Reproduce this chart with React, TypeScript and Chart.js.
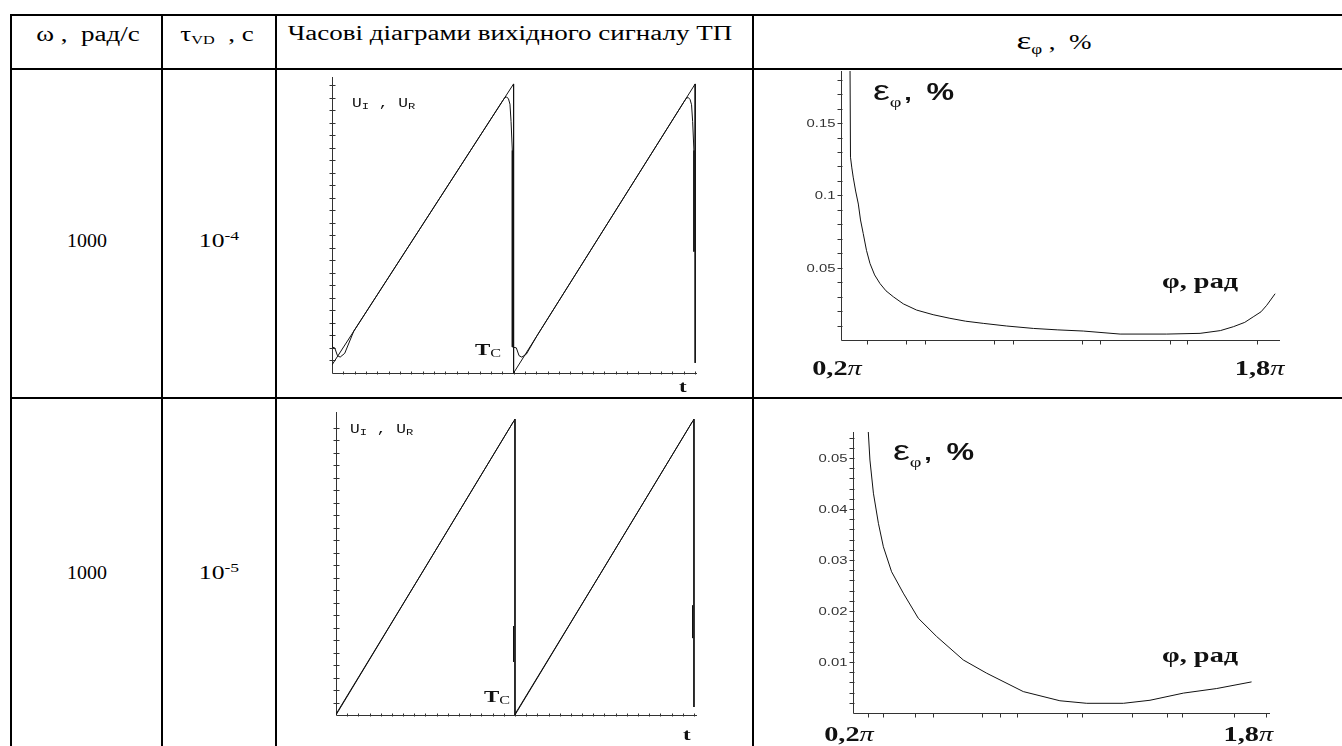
import { useEffect, useRef } from "react";
import { Chart, registerables } from "chart.js";

Chart.register(...registerables);

const SERIF = '"Liberation Serif", "Times New Roman", serif';
const SANS = '"Liberation Sans", Arial, sans-serif';
const MONO = '"Liberation Mono", "Courier New", monospace';
const INK = "#111";
const AXIS = "#333";
const STRETCH = 1.35;

// ---- Row 1 (τ = 1e-4 s): output signal, t in units of T_C, U normalised
const idealT1 = [0, 1, 1, 2, 2];
const idealU1 = [0.028, 1.0, 0.0, 1.0, 0.035];
const realT1 = [0, 0, 0.015, 0.03, 0.045, 0.07, 0.12, 0.94, 0.952, 0.962, 0.972, 0.98, 0.986, 0.993, 0.993,
  1.015, 1.03, 1.045, 1.07, 1.13, 1.94, 1.952, 1.962, 1.972, 1.98, 1.986, 1.993, 1.993];
const realU1 = [0.211, 0.09, 0.087, 0.06, 0.055, 0.068, 0.145, 0.942, 0.953, 0.955, 0.948, 0.93, 0.87, 0.77, 0.09,
  0.087, 0.06, 0.055, 0.065, 0.13, 0.94, 0.951, 0.953, 0.946, 0.928, 0.87, 0.77, 0.42];

// ---- Row 2 (τ = 1e-5 s)
const idealT2 = [0, 1, 1, 2, 2];
const idealU2 = [0.0, 1.0, 0.0, 1.0, 0.027];
const realT2 = [0, 0.5, 0.99, 0.991, 0.992, 0.992, 0.996, 1.0, 1.5, 1.99, 1.991, 1.992, 1.992];
const realU2 = [0.003, 0.5, 0.99, null, 0.3, 0.18, null, 0.003, 0.5, 0.99, null, 0.37, 0.26];

// ---- Phase error ε_φ (%) versus φ (in units of π)
const phi1 = [0.233, 0.235, 0.24, 0.245, 0.254, 0.264, 0.272, 0.282, 0.294, 0.307, 0.324, 0.344, 0.366, 0.393,
  0.43, 0.479, 0.54, 0.602, 0.66, 0.725, 0.81, 0.91, 1.0, 1.094, 1.23, 1.402, 1.525, 1.6, 1.648, 1.69, 1.721,
  1.75, 1.771, 1.802];
const eps1 = [0.2, 0.1264, 0.119, 0.1126, 0.103, 0.094, 0.083, 0.0736, 0.062, 0.0529, 0.045, 0.039, 0.034, 0.0299,
  0.025, 0.0207, 0.0175, 0.015, 0.013, 0.0115, 0.0097, 0.008, 0.007, 0.0062, 0.0041, 0.0041, 0.0046, 0.0065,
  0.0092, 0.0122, 0.016, 0.0195, 0.024, 0.032];
const phi2 = [0.258, 0.268, 0.282, 0.302, 0.322, 0.355, 0.402, 0.462, 0.536, 0.643, 0.737, 0.884, 1.031, 1.139,
  1.286, 1.393, 1.527, 1.661, 1.801];
const eps2 = [0.058, 0.0496, 0.0431, 0.0372, 0.0326, 0.0277, 0.0235, 0.0186, 0.015, 0.0104, 0.0078, 0.0042,
  0.0024, 0.0019, 0.0019, 0.0025, 0.0039, 0.0048, 0.0061];

// ---- Tick labels
const eps1TickValues = [0.05, 0.1, 0.15];
const eps1TickLabels = ["0.05", "0.1", "0.15"];
const eps2TickValues = [0.01, 0.02, 0.03, 0.04, 0.05];
const eps2TickLabels = ["0.01", "0.02", "0.03", "0.04", "0.05"];
const phiLabelValues = [0.2, 1.8];
const phiLabelTexts = ["0,2", "1,8"];
const phi1MinorTicks = [0.295, 0.44, 0.51, 0.765, 0.835, 1.09, 1.155, 1.415, 1.475, 1.735];
const phi2MinorTicks = [0.26, 0.32, 0.45, 0.52, 0.72, 0.79, 0.86, 1.06, 1.12, 1.32, 1.46, 1.52, 1.73, 1.86];

function steps(step: number, from: number, to: number): number[] {
  const out: number[] = [];
  for (let v = from; v <= to + 1e-9; v += step) out.push(+v.toFixed(5));
  return out;
}

type Run = { text: string; font: string; dy?: number; dx?: number };
type TextItem = { x: number; y: number; runs: Run[]; align?: "left" | "center" };

function drawRuns(ctx: CanvasRenderingContext2D, x: number, y: number, runs: Run[], align: "left" | "center" | "right" = "left", color = INK) {
  ctx.save();
  ctx.fillStyle = color;
  ctx.textBaseline = "alphabetic";
  ctx.textAlign = "left";
  let total = 0;
  for (const r of runs) {
    ctx.font = r.font;
    total += ctx.measureText(r.text).width + (r.dx ?? 0);
  }
  let sx = x;
  if (align === "center") sx = x - (total * STRETCH) / 2;
  if (align === "right") sx = x - total * STRETCH;
  ctx.translate(sx, y);
  ctx.scale(STRETCH, 1);
  let cx = 0;
  for (const r of runs) {
    ctx.font = r.font;
    cx += r.dx ?? 0;
    ctx.fillText(r.text, cx, r.dy ?? 0);
    cx += ctx.measureText(r.text).width;
  }
  ctx.restore();
}

interface PlotSpec {
  box: { left: number; top: number; width: number; height: number };
  pad: { left: number; top: number; right: number; bottom: number };
  x: { min: number; max: number };
  y: { min: number; max: number };
  series: { t: number[]; v: (number | null)[] }[];
  xTicks: number[];
  xTickUp: number;
  xTickDown: number;
  yTicks: number[];
  yTickLeft: number;
  yTickRight: number;
  yLabels?: { values: number[]; texts: string[] };
  phiLabels?: { offsets: number[]; baseline: number };
  texts: TextItem[];
}

function decor(spec: PlotSpec) {
  return {
    id: "decor",
    beforeDatasetsDraw(chart: any) {
      const ctx: CanvasRenderingContext2D = chart.ctx;
      const xs = chart.scales.x;
      const ys = chart.scales.y;
      const area = chart.chartArea;
      const ax = Math.round(area.left) + 0.5;
      const ay = Math.round(ys.getPixelForValue(0)) + 0.5;
      ctx.save();
      ctx.strokeStyle = AXIS;
      ctx.lineWidth = 1;
      ctx.beginPath();
      ctx.moveTo(ax, area.top);
      ctx.lineTo(ax, ay);
      ctx.moveTo(ax, ay);
      ctx.lineTo(area.right, ay);
      for (const v of spec.yTicks) {
        const py = Math.round(ys.getPixelForValue(v)) + 0.5;
        ctx.moveTo(ax - spec.yTickLeft, py);
        ctx.lineTo(ax + spec.yTickRight, py);
      }
      for (const v of spec.xTicks) {
        const px = Math.round(xs.getPixelForValue(v)) + 0.5;
        ctx.moveTo(px, ay - spec.xTickUp);
        ctx.lineTo(px, ay + spec.xTickDown);
      }
      ctx.stroke();
      ctx.restore();

      if (spec.yLabels) {
        spec.yLabels.values.forEach((v, i) => {
          const py = ys.getPixelForValue(v);
          drawRuns(ctx, ax - spec.yTickLeft - 2, py + 4, [{ text: spec.yLabels!.texts[i], font: `11px ${SANS}` }], "right", "#333");
        });
      }
      if (spec.phiLabels) {
        phiLabelValues.forEach((v, i) => {
          const px = xs.getPixelForValue(v) + spec.phiLabels!.offsets[i];
          drawRuns(ctx, px, spec.phiLabels!.baseline, [
            { text: phiLabelTexts[i], font: `bold 21px ${SERIF}` },
            { text: "π", font: `italic 21px ${SERIF}` },
          ], "center");
        });
      }
    },
    afterDraw(chart: any) {
      for (const t of spec.texts) drawRuns(chart.ctx, t.x, t.y, t.runs, t.align ?? "left");
    },
  };
}

function Plot({ spec }: { spec: PlotSpec }) {
  const ref = useRef<HTMLCanvasElement>(null);
  useEffect(() => {
    const chart = new Chart(ref.current!, {
      type: "line",
      data: {
        datasets: spec.series.map((s) => ({
          data: s.t.map((t, i) => ({ x: t, y: s.v[i] })),
          borderColor: INK,
          borderWidth: 1,
          pointRadius: 0,
          fill: false,
          tension: 0,
          spanGaps: false,
        })) as any,
      },
      options: {
        animation: false,
        responsive: false,
        maintainAspectRatio: false,
        events: [],
        layout: { padding: spec.pad },
        plugins: { legend: { display: false }, tooltip: { enabled: false } },
        scales: {
          x: { type: "linear", min: spec.x.min, max: spec.x.max, display: false },
          y: { type: "linear", min: spec.y.min, max: spec.y.max, display: false },
        },
      },
      plugins: [decor(spec)],
    });
    return () => chart.destroy();
  }, [spec]);
  const b = spec.box;
  return (
    <canvas
      ref={ref}
      width={b.width}
      height={b.height}
      style={{ position: "absolute", left: b.left, top: b.top, width: b.width, height: b.height }}
    />
  );
}

const uLabel = (x: number, y: number): TextItem => ({
  x,
  y,
  runs: [
    { text: "U", font: `12px ${MONO}` },
    { text: "I", font: `9px ${MONO}`, dy: 2 },
    { text: " , ", font: `12px ${MONO}` },
    { text: "U", font: `12px ${MONO}` },
    { text: "R", font: `9px ${MONO}`, dy: 2 },
  ],
});
const tcLabel = (x: number, y: number): TextItem => ({
  x,
  y,
  runs: [
    { text: "T", font: `bold 17px ${SERIF}` },
    { text: "C", font: `12px ${SERIF}`, dy: 2 },
  ],
});
const tLabel = (x: number, y: number): TextItem => ({ x, y, runs: [{ text: "t", font: `bold 17px ${SERIF}` }] });
const epsLabel = (x: number, y: number): TextItem => ({
  x,
  y,
  runs: [
    { text: "ε", font: `28px ${SANS}` },
    { text: "φ", font: `15px ${SERIF}`, dy: 7 },
    { text: ",", font: `bold 20px ${SANS}`, dx: 2 },
    { text: "%", font: `bold 23px ${SANS}`, dx: 11 },
  ],
});
const phiLabel = (x: number, y: number): TextItem => ({
  x,
  y,
  runs: [{ text: "φ, рад", font: `bold 21px ${SERIF}` }],
});

const timeSpec1: PlotSpec = {
  box: { left: 300, top: 71, width: 450, height: 326 },
  pad: { left: 32, top: 6, right: 53, bottom: 24 },
  x: { min: 0, max: 2.01 },
  y: { min: 0, max: 1.024 },
  series: [
    { t: idealT1, v: idealU1 },
    { t: realT1, v: realU1 },
  ],
  xTicks: steps(0.0625, 0.0625, 2),
  xTickUp: 2,
  xTickDown: 1,
  yTicks: steps(0.0433, 0.0433, 1.0),
  yTickLeft: 3,
  yTickRight: 3,
  texts: [uLabel(52, 36), tcLabel(175, 284), tLabel(379, 321)],
};

const timeSpec2: PlotSpec = {
  box: { left: 300, top: 400, width: 450, height: 346 },
  pad: { left: 36, top: 12, right: 53, bottom: 31 },
  x: { min: 0, max: 2.017 },
  y: { min: 0, max: 1.024 },
  series: [
    { t: idealT2, v: idealU2 },
    { t: realT2, v: realU2 },
  ],
  xTicks: steps(0.0625, 0.0625, 2),
  xTickUp: 2,
  xTickDown: 1,
  yTicks: steps(0.0422, 0.0422, 1.0),
  yTickLeft: 3,
  yTickRight: 3,
  texts: [uLabel(50, 33), tcLabel(184, 302), tLabel(383, 340)],
};

const epsSpec1: PlotSpec = {
  box: { left: 755, top: 71, width: 587, height: 326 },
  pad: { left: 86, top: 0, right: 62, bottom: 57 },
  x: { min: 0.2, max: 1.82 },
  y: { min: 0, max: 0.186 },
  series: [{ t: phi1, v: eps1 }],
  xTicks: phi1MinorTicks,
  xTickUp: 0,
  xTickDown: 4,
  yTicks: steps(0.01, 0.01, 0.18),
  yTickLeft: 4,
  yTickRight: 1,
  yLabels: { values: eps1TickValues, texts: eps1TickLabels },
  phiLabels: { offsets: [-4, -15], baseline: 304 },
  texts: [epsLabel(118, 29), phiLabel(407, 217)],
};

const epsSpec2: PlotSpec = {
  box: { left: 755, top: 400, width: 587, height: 346 },
  pad: { left: 98, top: 32, right: 72, bottom: 33 },
  x: { min: 0.2, max: 1.875 },
  y: { min: 0, max: 0.0551 },
  series: [{ t: phi2, v: eps2 }],
  xTicks: phi2MinorTicks,
  xTickUp: 0,
  xTickDown: 4,
  yTicks: steps(0.002, 0.002, 0.054),
  yTickLeft: 4,
  yTickRight: 1,
  yLabels: { values: eps2TickValues, texts: eps2TickLabels },
  phiLabels: { offsets: [-4, -3], baseline: 341 },
  texts: [epsLabel(138, 60), phiLabel(407, 262)],
};

function Text({ cx, baseline, size, stretch = STRETCH, children }: { cx: number; baseline: number; size: number; stretch?: number; children: any }) {
  return (
    <div
      style={{
        position: "absolute",
        left: cx - 250,
        width: 500,
        top: baseline - size * 0.8375,
        height: size,
        lineHeight: `${size}px`,
        fontSize: size,
        fontFamily: SERIF,
        textAlign: "center",
        whiteSpace: "pre",
        color: "#000",
        transform: `scaleX(${stretch})`,
        transformOrigin: "center",
      }}
    >
      {children}
    </div>
  );
}

const sub = (s: string, size: number, dy: number) => (
  <span style={{ fontSize: size, position: "relative", top: dy }}>{s}</span>
);

function Line({ left, top, width, height }: { left: number; top: number; width: number; height: number }) {
  return <div style={{ position: "absolute", left, top, width, height, background: "#000" }} />;
}

export default function App() {
  return (
    <div
      style={{
        position: "fixed",
        left: 0,
        top: 0,
        width: 1342,
        height: 746,
        overflow: "hidden",
        background: "#fff",
      }}
    >
      {/* table grid */}
      <Line left={10} top={14} width={1332} height={2} />
      <Line left={10} top={68} width={1332} height={2} />
      <Line left={10} top={397} width={1332} height={2} />
      <Line left={10} top={14} width={2} height={732} />
      <Line left={161} top={14} width={2} height={732} />
      <Line left={275} top={14} width={2} height={732} />
      <Line left={752} top={14} width={2} height={732} />

      {/* header */}
      <Text cx={88} baseline={41} size={20}>ω ,  рад/с</Text>
      <Text cx={217} baseline={41} size={20}>
        τ{sub("VD", 12, 3)}  , с
      </Text>
      <Text cx={510} baseline={40} size={20}>Часові діаграми вихідного сигналу ТП</Text>
      <Text cx={1054} baseline={48} size={20}>
        <span style={{ fontSize: 26 }}>ε</span>
        {sub("φ", 14, 5)} ,  %
      </Text>

      {/* row values */}
      <Text cx={87} baseline={247} size={19} stretch={1.05}>1000</Text>
      <Text cx={219} baseline={247} size={19}>
        10{sub("-4", 13, -7)}
      </Text>
      <Text cx={87} baseline={579} size={19} stretch={1.05}>1000</Text>
      <Text cx={219} baseline={579} size={19}>
        10{sub("-5", 13, -7)}
      </Text>

      <Plot spec={timeSpec1} />
      <Plot spec={timeSpec2} />
      <Plot spec={epsSpec1} />
      <Plot spec={epsSpec2} />
    </div>
  );
}
